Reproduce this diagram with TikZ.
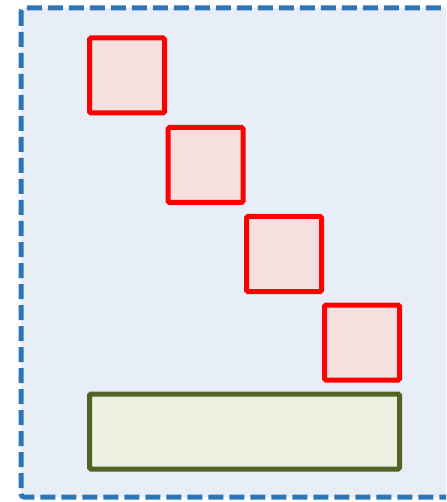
\documentclass[tikz,border=0pt]{standalone}
\usepackage{tikz}
\usetikzlibrary{positioning}
\definecolor{colFrame}{RGB}{46,117,182}
\definecolor{colFrameFill}{RGB}{231,238,247}
\definecolor{colBlock}{RGB}{255,0,0}
\definecolor{colBlockFill}{RGB}{245,223,223}
\definecolor{colBar}{RGB}{84,98,38}
\definecolor{colBarFill}{RGB}{235,240,224}

\begin{document}
\begin{tikzpicture}[
            x=1pt, y=-1pt,
            frame/.style={draw=colFrame, fill=colFrameFill, line width=5pt, rounded corners=3pt, dash pattern=on 15pt off 6pt},
            blk/.style={rectangle, draw=colBlock, fill=colBlockFill, line width=5pt, rounded corners=1.5pt, minimum width=75pt, minimum height=75pt, inner sep=0pt, outer sep=0pt},
            bar/.style={rectangle, draw=colBar, fill=colBarFill, line width=5pt, rounded corners=1.5pt, minimum width=310pt, minimum height=75pt, inner sep=0pt}
        ]
        \useasboundingbox (0,0) rectangle (446,502);

        %% ── CADRE ──────────────────────────
        \begin{scope}
        \clip (0,0) rectangle (446,502);
        \draw[frame] (21,8) rectangle (470,497);
        \end{scope}

        %% ── BLOCS EN ESCALIER ──────────────
        \node[blk] (b1) at (127,75.5) {};
        \node[blk] (b2) at (205.5,165) {};
        \node[blk] (b3) at (284,254) {};
        \node[blk] (b4) at (362,342.5) {};

        %% ── BARRE DU BAS ───────────────────
        \node[bar] (base) at (244.5,431.5) {};

\end{tikzpicture}
\end{document}
